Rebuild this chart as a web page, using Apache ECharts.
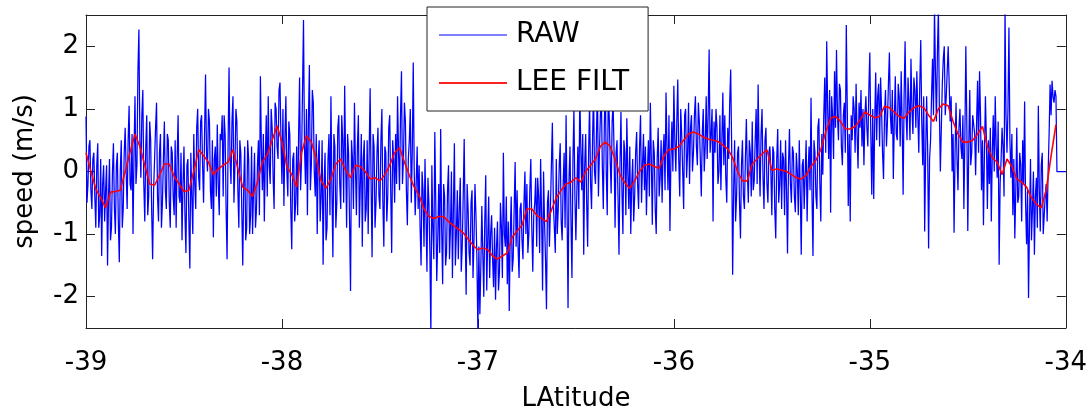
<!DOCTYPE html>
<html>
<head>
<meta charset="utf-8">
<script src="https://cdn.jsdelivr.net/npm/echarts@6/dist/echarts.min.js"></script>
<style>
html,body{margin:0;padding:0;background:#ffffff;}
#chart{width:1090px;height:417px;}
</style>
</head>
<body>
<div id="chart"></div>
<script>
// ---- data ----
const latStart = -39;        // first latitude sample
const rawStep = 0.005;       // latitude spacing of RAW samples (even + odd interleaved)
const filtStep = 0.025;      // latitude spacing of LEE FILT samples
const seriesNames = ['RAW', 'LEE FILT'];
const xAxisTitle = 'LAtitude';
const yAxisTitle = 'speed (m/s)';
const xTickMin = -39, xTickMax = -34, xTickStep = 1;
const yMin = -2.5, yMax = 2.5;

// RAW samples at latitudes -39.00, -38.99, ... , -34.00
const rawEven = [
 0.88,-0.2,0.5,-0.6,0.3,-0.9,0.45,-0.7,-1.35,0.1,
 -0.3,-1.5,0.2,-0.9,0.45,-1.0,0.3,-1.45,0.5,-0.6,
 0.7,-0.6,1.05,-0.3,-1.0,1.2,0.1,2.27,-0.1,1.3,
 -0.8,0.9,-0.4,0.5,-1.4,0.2,1.1,-0.8,0.6,-0.5,
 0.8,-0.6,0.5,-0.9,0.3,-0.7,-0.9,0.9,-0.5,-1.1,
 0.4,-1.3,0.2,-1.55,-0.4,0.6,-0.6,1.0,-0.3,0.9,
 -0.5,1.55,0.0,0.8,-0.6,-1.05,0.4,0.75,-0.7,0.5,
 -0.4,0.6,-1.4,1.66,-0.2,1.2,0.1,0.8,-0.9,0.3,
 -1.5,0.4,-0.9,0.2,-0.7,-1.0,0.3,-0.6,0.5,1.52,
 -0.3,-0.8,0.9,1.2,-0.2,0.7,-0.6,1.0,0.2,1.42,
 -0.2,-0.55,1.2,-0.4,0.6,-1.24,0.3,-0.5,-0.7,1.5,
 0.2,2.42,-0.2,-0.7,1.7,0.1,1.1,-0.4,-1.0,0.5,
 -0.4,-1.49,0.3,-0.9,0.6,1.2,-1.37,0.4,-0.5,0.9,
 -0.6,0.5,1.37,-0.9,0.3,-1.91,0.2,1.1,-0.7,0.9,
 -0.2,-1.2,0.5,-0.6,-1.0,1.33,-1.37,0.4,-0.5,0.7,
 -0.6,1.0,-1.2,0.3,-0.4,0.9,-1.3,0.2,0.6,1.2,
 -0.3,1.6,0.2,0.8,-0.86,0.5,-0.5,1.74,-0.7,0.4,
 0.1,-1.5,-0.3,0.2,-1.6,-0.5,-2.6,-0.9,0.63,-1.75,
 -0.2,0.68,-1.8,-0.4,-1.3,0.1,-0.9,-1.7,0.45,-1.0,
 -1.4,-0.1,-1.2,0.52,-1.97,-0.6,-1.5,-0.3,-1.1,-0.7,
 -2.6,-2.28,-0.55,-2.0,-0.06,-1.1,-1.7,-0.7,-1.85,-2.05,
 -0.8,-1.6,-0.9,0.3,-1.2,-1.8,-2.23,-0.4,-1.4,0.15,
 -0.3,-1.7,-0.5,-1.4,0.0,-0.2,-1.0,0.2,-1.6,-0.5,
 -1.2,-0.4,0.2,-1.9,-0.8,-2.2,-0.3,-0.6,0.78,-0.9,
 0.2,-0.6,0.45,-1.1,0.3,0.9,-2.18,0.4,-1.7,1.0,
 -1.1,0.4,1.26,-0.3,-1.33,0.6,-1.2,1.1,-0.6,1.3,
 -0.2,1.4,0.3,1.2,-0.6,1.5,-0.7,0.9,-0.35,1.1,
 -0.9,0.5,-1.33,0.95,-1.0,0.3,0.85,-0.6,-1.0,0.2,
 -0.4,0.63,-0.6,0.9,0.1,-0.3,-0.7,0.5,1.1,-0.85,
 0.3,-1.0,0.7,-0.1,-0.5,0.6,1.26,-0.3,-0.95,0.8,
 1.37,0.0,1.47,-0.4,0.6,-0.6,1.0,0.3,-0.2,0.9,
 0.3,1.2,0.1,0.8,-0.4,1.0,0.4,0.2,1.95,0.6,
 -0.8,0.3,0.7,0.0,-0.3,1.26,0.9,-0.5,0.2,1.63,
 -1.65,0.5,-0.4,0.4,-1.07,0.5,-0.6,0.84,-0.5,0.3,
 0.8,-0.15,1.0,1.39,-0.4,1.0,-0.6,0.7,-0.5,0.4,
 -0.7,0.3,-1.07,0.68,-0.2,-0.6,0.2,0.5,-1.31,0.68,
 -0.5,0.3,-0.65,0.0,0.5,-1.33,0.2,-0.05,-0.8,0.4,
 1.18,-1.35,0.3,-0.6,0.85,-0.8,-0.05,1.5,2.08,0.2,
 -0.66,0.9,1.6,1.94,0.5,1.3,0.1,1.1,2.34,-0.55,
 -0.8,0.5,1.0,1.4,0.05,0.7,0.4,0.1,1.2,0.4,
 1.9,-0.37,-0.44,1.58,1.2,0.4,1.0,-0.12,1.3,0.8,
 1.9,0.6,-0.12,1.52,0.5,1.2,1.6,-0.37,2.08,0.5,
 1.1,1.8,0.6,1.3,1.6,0.3,2.1,0.1,-0.96,1.2,
 -1.23,0.5,1.8,2.6,0.8,2.6,0.0,1.4,2.0,1.2,
 2.0,0.8,0.0,-0.98,1.1,-0.3,1.0,0.2,-0.6,2.0,
 -0.95,1.3,0.3,0.9,-0.06,1.45,1.6,-0.3,-0.86,1.2,
 -0.6,-0.2,-0.8,0.9,1.2,-0.1,-1.49,0.2,0.4,2.6,
 0.3,2.3,-0.1,-0.7,-1.07,0.7,-0.4,0.1,0.5,1.12,
 -1.16,-2.02,0.2,-0.6,-1.33,-0.1,1.05,-0.96,0.3,-0.7,
 -0.2,0.0,1.39,1.45,1.1,1.2,0,0,0,0,0
];

// RAW samples at latitudes -38.995, -38.985, ... , -34.005
const rawOdd = [
 -0.5,0.4,-0.3,0.2,-0.4,0.1,-0.9,0.2,-0.2,-0.8,
 0.1,-0.4,-1.1,0.0,-0.6,0.1,-0.8,0.0,-0.9,0.3,
 0.0,0.5,-0.2,0.6,0.3,-0.2,1.6,0.5,0.9,-0.2,
 0.4,-0.7,0.8,-0.6,-0.3,0.7,-0.4,0.3,-0.9,0.2,
 -0.3,0.6,-0.5,0.4,-0.4,0.5,0.2,-0.4,0.3,-0.2,
 -0.7,0.1,-0.8,0.3,-1.0,-0.2,0.7,-0.1,0.8,0.1,
 0.6,0.3,1.0,-0.3,0.5,0.2,-0.4,-0.2,0.6,0.9,
 0.9,-0.6,0.4,0.2,0.8,-0.5,1.0,-0.3,0.5,-0.6,
 -0.2,-1.1,0.5,-1.0,0.4,-0.3,-0.9,0.1,-0.7,0.4,
 0.6,0.2,-0.4,0.1,1.0,-0.1,1.1,0.4,1.3,0.5,
 1.0,0.5,0.0,0.8,-0.6,0.2,-0.8,0.4,0.6,-0.3,
 1.3,0.4,1.0,0.8,-0.3,1.3,0.0,0.6,0.2,-0.8,
 0.5,-0.2,-1.1,0.2,-0.7,-0.3,0.6,-0.9,0.7,-0.2,
 0.9,-0.5,0.2,0.6,-0.8,0.5,-0.6,0.1,0.4,-0.9,
 0.6,0.2,-0.8,0.5,0.3,-0.2,0.6,-0.9,0.3,-0.4,
 0.5,-0.5,0.4,-0.8,0.7,-0.3,0.5,-0.5,-0.2,0.3,
 0.9,-0.2,1.1,-0.3,0.2,1.0,0.3,0.0,-0.2,-0.6,
 -0.9,0.0,-1.2,-0.7,-0.1,-1.3,0.1,-1.4,-0.5,-1.1,
 -1.3,-0.9,-0.2,-1.5,-0.3,-1.4,0.0,-0.6,-1.5,-0.3,
 -0.6,-1.6,-0.4,-0.9,-0.2,-1.3,-0.5,-1.7,-0.2,-1.4,
 -1.2,-1.5,-1.3,-0.8,-1.9,-0.4,-1.0,-1.4,-0.9,-1.2,
 -1.9,-0.5,-1.7,-1.0,-0.4,-0.8,-1.0,-1.6,-0.6,-1.2,
 -1.2,-0.6,-1.1,-0.5,-1.0,-1.3,-0.3,-0.9,-0.7,-0.1,
 -0.1,-1.3,-0.7,0.0,-1.4,-0.5,-1.2,0.1,-0.5,-1.3,
 -1.0,0.1,-0.8,-0.2,-0.9,-0.6,-0.1,-0.8,0.2,-0.4,
 -0.3,-0.6,0.4,0.6,0.1,-0.5,0.3,-0.2,0.5,0.0,
 0.6,-0.4,0.9,0.1,0.7,0.0,1.2,0.2,0.8,0.3,
 0.3,-0.4,0.1,-0.3,0.5,-0.7,0.0,0.4,-0.2,-0.8,
 0.3,-0.2,0.4,-0.5,0.6,0.4,0.0,-0.4,0.2,0.5,
 -0.6,0.2,-0.4,0.5,0.3,-0.3,0.4,0.9,0.2,0.0,
 0.5,0.8,0.2,1.0,0.0,0.9,-0.1,1.1,0.7,0.0,
 0.9,0.4,1.1,0.2,0.6,0.0,1.2,0.9,0.3,1.0,
 0.8,1.0,-0.2,0.9,0.5,0.1,-0.1,0.7,1.1,0.4,
 -0.3,-0.8,0.3,-0.5,0.1,-0.4,0.2,0.0,0.5,-0.4,
 -0.3,0.5,-0.2,0.3,0.6,-0.1,0.5,-0.2,0.3,0.0,
 0.4,-0.6,0.2,-0.5,0.5,0.3,-0.7,-0.3,0.1,-0.2,
 0.4,-0.4,0.3,-0.7,-0.3,0.1,-0.6,0.5,0.0,-0.3,
 -0.4,0.5,-0.4,0.7,-0.2,0.6,0.9,0.3,1.0,1.3,
 1.2,0.2,0.7,0.9,1.4,0.4,0.9,0.3,1.0,0.6,
 0.9,1.2,0.3,0.6,1.1,1.3,1.0,0.9,0.7,1.3,
 0.6,1.0,0.8,0.5,1.4,1.5,0.3,0.9,0.4,1.4,
 0.9,1.3,0.8,0.6,1.4,0.4,0.8,1.2,0.9,1.5,
 0.5,1.0,1.5,0.7,0.9,1.4,0.8,1.2,0.3,0.4,
 0.2,1.2,0.9,1.6,1.9,1.0,0.7,1.8,0.9,1.6,
 1.4,1.2,0.6,0.3,0.2,0.7,0.4,0.9,0.5,0.8,
 0.4,0.1,0.9,0.6,0.8,0.3,0.9,0.5,0.3,0.5,
 0.5,0.7,0.3,0.0,0.4,0.8,-0.2,0.7,-0.4,0.9,
 1.0,0.5,0.6,0.2,-0.3,-0.5,0.3,-0.8,-0.2,-0.5,
 -0.3,-0.8,-1.1,0.0,-0.4,-0.9,-0.3,0.1,-1.0,-0.4,
 -0.8,0.6,0.9,1.2,1.3,0,0,0,0,0
];

// LEE FILT samples at latitudes -39.000, -38.975, ... , -34.050
const leeFilt = [
 0.3,0.0,-0.28,-0.42,-0.58,-0.33,-0.32,-0.3,0.0,0.31,
 0.6,0.4,0.1,-0.2,-0.22,-0.06,0.12,0.12,-0.08,-0.2,
 -0.32,-0.3,0.0,0.35,0.25,0.15,-0.05,0.04,0.1,0.15,
 0.35,0.05,-0.25,-0.3,-0.4,-0.17,0.15,0.27,0.5,0.73,
 0.47,0.08,-0.05,-0.25,0.3,0.57,0.47,0.2,-0.15,-0.27,
 -0.12,0.12,0.2,0.02,-0.1,0.1,0.08,0.0,-0.12,-0.1,
 -0.15,-0.05,0.1,0.3,0.38,0.15,-0.06,-0.25,-0.38,-0.6,
 -0.72,-0.75,-0.72,-0.72,-0.8,-0.86,-0.92,-0.98,-1.08,-1.18,
 -1.25,-1.22,-1.25,-1.35,-1.4,-1.35,-1.3,-1.05,-0.95,-0.86,
 -0.6,-0.6,-0.7,-0.75,-0.8,-0.62,-0.42,-0.3,-0.2,-0.17,
 -0.1,-0.17,0.0,0.1,0.2,0.4,0.47,0.4,0.2,-0.05,
 -0.18,-0.27,-0.15,0.0,0.1,0.12,0.08,0.05,0.25,0.35,
 0.36,0.4,0.5,0.6,0.63,0.6,0.55,0.52,0.5,0.48,
 0.42,0.36,0.22,0.0,-0.15,-0.15,0.12,0.2,0.28,0.35,
 0.02,0.04,0.02,0.0,-0.05,-0.1,-0.12,-0.06,0.08,0.18,
 0.35,0.63,0.85,0.88,0.8,0.68,0.68,0.72,0.82,0.95,
 0.9,0.86,0.88,1.04,1.02,0.95,0.88,0.85,0.95,1.02,
 1.05,1.02,0.9,0.8,1.0,1.08,1.05,0.8,0.6,0.47,
 0.47,0.5,0.6,0.72,0.4,0.22,0.15,-0.05,0.2,0.08,
 -0.12,-0.17,-0.25,-0.42,-0.52,-0.58,-0.3,0.25,0.75
];

// ---- build chart ----
function latAt(i, step) { return Number((latStart + i * step).toFixed(4)); }

const rawPairs = [];
for (let i = 0; i < rawEven.length; i++) {
  rawPairs.push([latAt(2 * i, rawStep), rawEven[i]]);
  if (i < rawOdd.length) rawPairs.push([latAt(2 * i + 1, rawStep), rawOdd[i]]);
}
const filtPairs = leeFilt.map((v, i) => [latAt(i, filtStep), v]);

const FONT = 'DejaVu Sans';
const AX = '#222222';

const chart = echarts.init(document.getElementById('chart'), null, {renderer: 'canvas'});
chart.setOption({
  animation: false,
  backgroundColor: '#ffffff',
  grid: {left: 86, top: 15, width: 981, height: 315, containLabel: false},
  legend: {
    orient: 'vertical',
    left: 427, top: 7,
    padding: [13, 19, 13, 12],
    itemWidth: 68, itemHeight: 2, itemGap: 18,
    backgroundColor: '#ffffff',
    borderColor: AX, borderWidth: 1, borderRadius: 0,
    textStyle: {fontSize: 28, fontFamily: FONT, color: '#000', lineHeight: 30, padding: [0, 0, 0, 4]},
    data: [
      {name: seriesNames[0], icon: 'rect', itemStyle: {color: '#8080ff'}},
      {name: seriesNames[1], icon: 'rect', itemStyle: {color: '#ff2020'}}
    ]
  },
  xAxis: [
    {
      type: 'value', position: 'bottom', min: xTickMin, max: xTickMax, interval: xTickStep,
      name: xAxisTitle, nameLocation: 'middle', nameGap: 58,
      nameTextStyle: {fontSize: 26, fontFamily: FONT, color: '#000'},
      axisLine: {show: true, onZero: false, lineStyle: {color: AX, width: 1}},
      axisTick: {show: true, inside: true, length: 9, lineStyle: {color: AX}},
      axisLabel: {fontSize: 26, fontFamily: FONT, color: '#000', margin: 22},
      splitLine: {show: false}
    },
    {
      type: 'value', position: 'top', min: xTickMin, max: xTickMax, interval: xTickStep,
      axisLine: {show: true, onZero: false, lineStyle: {color: AX, width: 1}},
      axisTick: {show: true, inside: true, length: 9, lineStyle: {color: AX}},
      axisLabel: {show: false}, splitLine: {show: false}
    }
  ],
  yAxis: [
    {
      type: 'value', position: 'left', min: yMin, max: yMax, splitNumber: 5,
      name: yAxisTitle, nameLocation: 'middle', nameGap: 48,
      nameTextStyle: {fontSize: 26, fontFamily: FONT, color: '#000'},
      axisLine: {show: true, onZero: false, lineStyle: {color: AX, width: 1}},
      axisTick: {show: true, inside: true, length: 9, lineStyle: {color: AX}},
      axisLabel: {fontSize: 26, fontFamily: FONT, color: '#000', margin: 7,
                  showMinLabel: false, showMaxLabel: false, padding: [16, 0, 0, 0]},
      splitLine: {show: false}
    },
    {
      type: 'value', position: 'right', min: yMin, max: yMax, splitNumber: 5,
      axisLine: {show: true, onZero: false, lineStyle: {color: AX, width: 1}},
      axisTick: {show: true, inside: true, length: 9, lineStyle: {color: AX}},
      axisLabel: {show: false}, splitLine: {show: false}
    }
  ],
  series: [
    {
      name: seriesNames[0], type: 'line', xAxisIndex: 0, yAxisIndex: 0,
      data: rawPairs,
      symbol: 'none', showSymbol: false, silent: true, z: 2,
      lineStyle: {color: '#0000ff', width: 1.25},
      itemStyle: {color: '#0000ff'}
    },
    {
      name: seriesNames[1], type: 'line', xAxisIndex: 0, yAxisIndex: 0,
      data: filtPairs,
      symbol: 'none', showSymbol: false, silent: true, z: 3,
      lineStyle: {color: '#ff0000', width: 1.6},
      itemStyle: {color: '#ff0000'}
    }
  ]
});
</script>
</body>
</html>
